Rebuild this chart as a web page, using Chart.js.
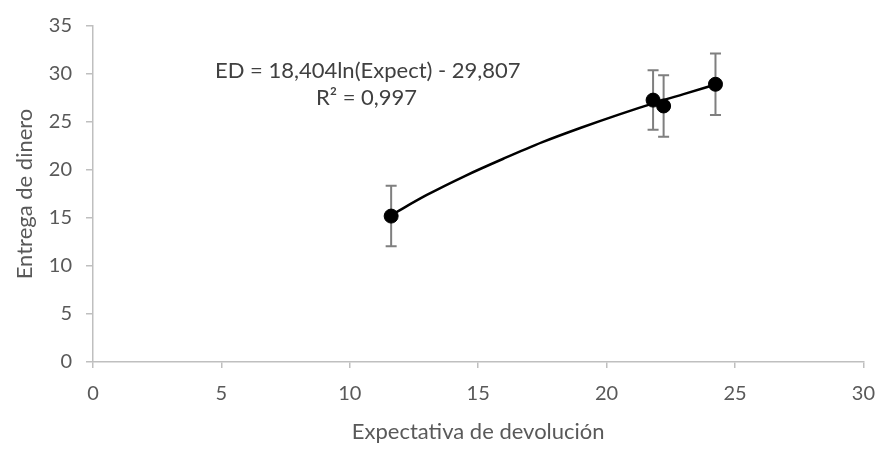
<!DOCTYPE html>
<html lang="es">
<head>
<meta charset="utf-8">
<title>Entrega de dinero vs expectativa de devolución</title>
<script src="https://cdn.jsdelivr.net/npm/chart.js@4.4.1/dist/chart.umd.min.js"></script>
<style>
  html, body { margin: 0; padding: 0; background: #fff; }
  #wrap { width: 889px; height: 453px; position: relative; }
</style>
</head>
<body>
<div id="wrap"><canvas id="chart"></canvas></div>
<script>
// --- datos ---
const expectativa = [11.61, 21.81, 22.22, 24.24];
const entrega     = [15.2, 27.28, 26.67, 28.93];
const errores     = [3.15, 3.1, 3.2, 3.2];

// línea de tendencia logarítmica
const tendenciaX = [11.61, 13, 14.5, 16, 17.5, 19, 20.5, 22, 23, 24.24];
const tendenciaY = [15.3, 17.4, 19.4, 21.2, 22.9, 24.4, 25.8, 27.1, 27.9, 28.9];

const xTicks = [0, 5, 10, 15, 20, 25, 30];
const yTicks = [0, 5, 10, 15, 20, 25, 30, 35];

const ecuacion = ['ED = 18,404ln(Expect) - 29,807', 'R² = 0,997'];

const FONT = 'Lato, "Open Sans", sans-serif';
const GRIS_TEXTO = '#595959';
const GRIS_EJE = '#bfbfbf';

// barras de error dibujadas con las escalas del gráfico
const errorBars = {
  id: 'errorBars',
  beforeDatasetsDraw(chart) {
    const { ctx, scales: { x, y } } = chart;
    ctx.save();
    ctx.strokeStyle = '#7f7f7f';
    ctx.lineWidth = 2;
    expectativa.forEach((ex, i) => {
      const px = x.getPixelForValue(ex);
      const top = y.getPixelForValue(entrega[i] + errores[i]);
      const bot = y.getPixelForValue(entrega[i] - errores[i]);
      ctx.beginPath();
      ctx.moveTo(px, top); ctx.lineTo(px, bot);
      ctx.moveTo(px - 5.5, top); ctx.lineTo(px + 5.5, top);
      ctx.moveTo(px - 5.5, bot); ctx.lineTo(px + 5.5, bot);
      ctx.stroke();
    });
    ctx.restore();
  }
};

// etiqueta con la ecuación de la tendencia
const etiqueta = {
  id: 'etiqueta',
  afterDatasetsDraw(chart) {
    const { ctx, scales: { x, y } } = chart;
    ctx.save();
    ctx.fillStyle = '#404040';
    ctx.font = '22px ' + FONT;
    ctx.textAlign = 'center';
    ctx.textBaseline = 'middle';
    ctx.fillText(ecuacion[0], x.getPixelForValue(10.7), y.getPixelForValue(30.3));
    ctx.fillText(ecuacion[1], x.getPixelForValue(10.65), y.getPixelForValue(27.55));
    ctx.restore();
  }
};

new Chart(document.getElementById('chart').getContext('2d'), {
  type: 'scatter',
  data: {
    datasets: [
      {
        label: 'Entrega',
        data: expectativa.map((v, i) => ({ x: v, y: entrega[i] })),
        backgroundColor: '#000',
        borderColor: '#000',
        pointRadius: 7,
        showLine: false,
        order: 1,
      },
      {
        label: 'Tendencia',
        type: 'line',
        data: tendenciaX.map((v, i) => ({ x: v, y: tendenciaY[i] })),
        borderColor: '#000',
        borderWidth: 2.5,
        pointRadius: 0,
        tension: 0.4,
        cubicInterpolationMode: 'monotone',
        fill: false,
        order: 2,
      },
    ]
  },
  options: {
    responsive: true,
    maintainAspectRatio: false,
    animation: false,
    layout: { padding: { top: 16, right: 21, bottom: 0, left: 0 } },
    plugins: {
      legend: { display: false },
      tooltip: { enabled: false },
    },
    scales: {
      x: {
        type: 'linear',
        min: 0, max: 30,
        afterBuildTicks: (s) => { s.ticks = xTicks.map(v => ({ value: v })); },
        afterFit: (s) => { s.height = 91; },
        grid: { drawOnChartArea: false, color: GRIS_EJE, tickLength: 6, lineWidth: 1.5 },
        border: { color: GRIS_EJE, width: 1.5 },
        ticks: { color: GRIS_TEXTO, font: { family: FONT, size: 20 }, padding: 14, maxRotation: 0 },
        title: {
          display: true,
          text: 'Expectativa de devolución',
          color: GRIS_TEXTO,
          font: { family: FONT, size: 22 },
          padding: { top: 0, bottom: 8 },
        },
      },
      y: {
        type: 'linear',
        min: 0, max: 35,
        afterBuildTicks: (s) => { s.ticks = yTicks.map(v => ({ value: v })); },
        afterFit: (s) => { s.width = 93; },
        grid: { drawOnChartArea: false, color: GRIS_EJE, tickLength: 7, lineWidth: 1.5 },
        border: { color: GRIS_EJE, width: 1.5 },
        ticks: { color: GRIS_TEXTO, font: { family: FONT, size: 20 }, padding: 14 },
        title: {
          display: true,
          text: 'Entrega de dinero',
          color: GRIS_TEXTO,
          font: { family: FONT, size: 22 },
          padding: { top: 12, bottom: 0 },
        },
      },
    }
  },
  plugins: [errorBars, etiqueta]
});
</script>
</body>
</html>
